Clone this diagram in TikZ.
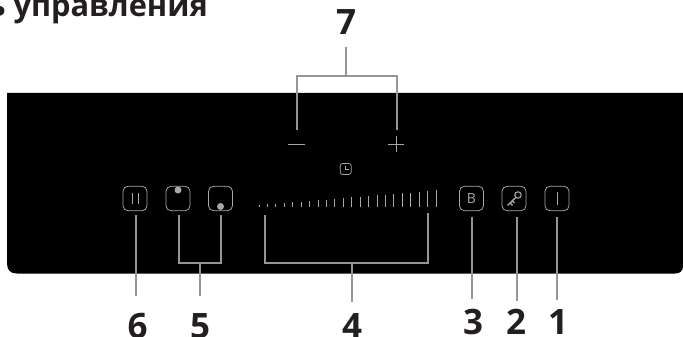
\documentclass[tikz,border=0pt]{standalone}
\usepackage{fontspec}
\setmainfont{Open Sans}
\definecolor{leadc}{HTML}{939598}
\definecolor{inkc}{HTML}{231F20}
\definecolor{iconc}{HTML}{A8A8A8}
\tikzset{
  leader/.style={draw=leadc,line width=2pt},
  numlabel/.style={text=inkc,font=\fontsize{35}{35}\selectfont\bfseries,inner sep=0pt,anchor=center},
  btn/.style={draw=iconc,line width=0.75pt,rounded corners=5pt,minimum width=24pt,minimum height=24.5pt,inner sep=0pt},
  icon/.style={draw=iconc,line width=0.9pt},
  tick/.style={draw=iconc,line width=1pt},
}
\begin{document}
\begin{tikzpicture}[x=1pt,y=-1pt]
\useasboundingbox (0,0) rectangle (683,337);
\begin{scope}
\clip (0,0) rectangle (683,337);
\node[anchor=base east,inner sep=0pt,text=inkc,font=\fontsize{30.8}{31}\selectfont\bfseries] (title) at (208,17) {ь управления};
\fill[black] (7,93) -- (683,93) -- (683,266) .. controls (683,271) and (680,273.5) .. (675,273.5) -- (17,273.5) .. controls (10,273.5) and (7,270) .. (7,263) -- cycle;
% digits cut by the lower edge, as in the reference
\node[numlabel] (n6) at (137.5,326) {6};
\node[numlabel] (n5) at (200,326) {5};
\node[numlabel] (n4) at (352,326) {4};
\end{scope}
% buttons
\node[btn] (b6) at (135,198.5) {};
\node[btn] (b5a) at (178,198.5) {};
\node[btn] (b5b) at (220.5,198.5) {};
\node[btn] (b3) at (471.5,198.5) {};
\node[btn] (b2) at (514,198.5) {};
\node[btn] (b1) at (557,198.5) {};
% button contents
\draw[icon] (132,193) -- (132,204) (138,193) -- (138,204);
\fill[iconc] (178,190) circle (3.5);
\fill[iconc] (220.5,206.5) circle (3.5);
\node[text=iconc,inner sep=0pt,font=\fontsize{14}{14}\selectfont] (bl) at (471.5,198.5) {B};
\draw[icon] (557,192) -- (557,205);
% key
\draw[icon,line width=1.1pt] (518,195) circle (3.2);
\draw[icon,line width=1.3pt] (515.8,197.4) -- (507.5,205.5) (510,203) -- (512.5,205.3) (512.2,201) -- (514.5,203);
% minus plus clock
\draw[icon] (288,144) -- (305,144);
\draw[icon] (388,144) -- (404,144) (396,136) -- (396,152);
\node[draw=iconc,line width=0.7pt,rounded corners=2.5pt,minimum width=11pt,minimum height=11pt,inner sep=0pt] (clk) at (345.7,169) {};
\draw[iconc,line width=0.7pt] (345.7,165.5) -- (345.7,169.5) -- (349,169.5);
% slider
\foreach \i in {0,...,21} {
  \pgfmathsetmacro{\xx}{259+8.43*\i}
  \pgfmathsetmacro{\yy}{205.2-14.8*\i/21}
  \draw[tick] (\xx,206.7) -- (\xx,\yy);
}
% labels
\node[numlabel] (n7) at (346,22.5) {7};
\node[numlabel] (n3) at (473,322) {3};
\node[numlabel] (n2) at (516,322) {2};
\node[numlabel] (n1) at (558,322) {1};
% connector anchors
\coordinate (t7) at (346,47);
\coordinate (j7) at (346,76);
\coordinate (m) at (296.5,129.5);
\coordinate (p) at (396.5,129.5);
\coordinate (a6) at (135.7,215);
\coordinate (e6) at (135.7,296);
\coordinate (a5l) at (178.5,215);
\coordinate (a5r) at (221,215);
\coordinate (j5) at (200,262.5);
\coordinate (e5) at (200,296);
\coordinate (a4l) at (264.7,215);
\coordinate (a4r) at (427.7,213);
\coordinate (j4) at (352,262.5);
\coordinate (e4) at (352,301.7);
\coordinate (a3) at (472.4,216.5);
\coordinate (e3) at (472.4,299);
\coordinate (a2) at (517.4,216.5);
\coordinate (e2) at (517.4,300.7);
\coordinate (a1) at (557,216.5);
\coordinate (e1) at (557,299.5);
\draw[leader] (t7) -- (j7);
\draw[leader] (m) |- (j7) -| (p);
\draw[leader] (a6) -- (e6);
\draw[leader] (a5l) |- (j5) -| (a5r);
\draw[leader] (j5) -- (e5);
\draw[leader] (a4l) |- (j4) -| (a4r);
\draw[leader] (j4) -- (e4);
\draw[leader] (a3) -- (e3);
\draw[leader] (a2) -- (e2);
\draw[leader] (a1) -- (e1);
\end{tikzpicture}
\end{document}
